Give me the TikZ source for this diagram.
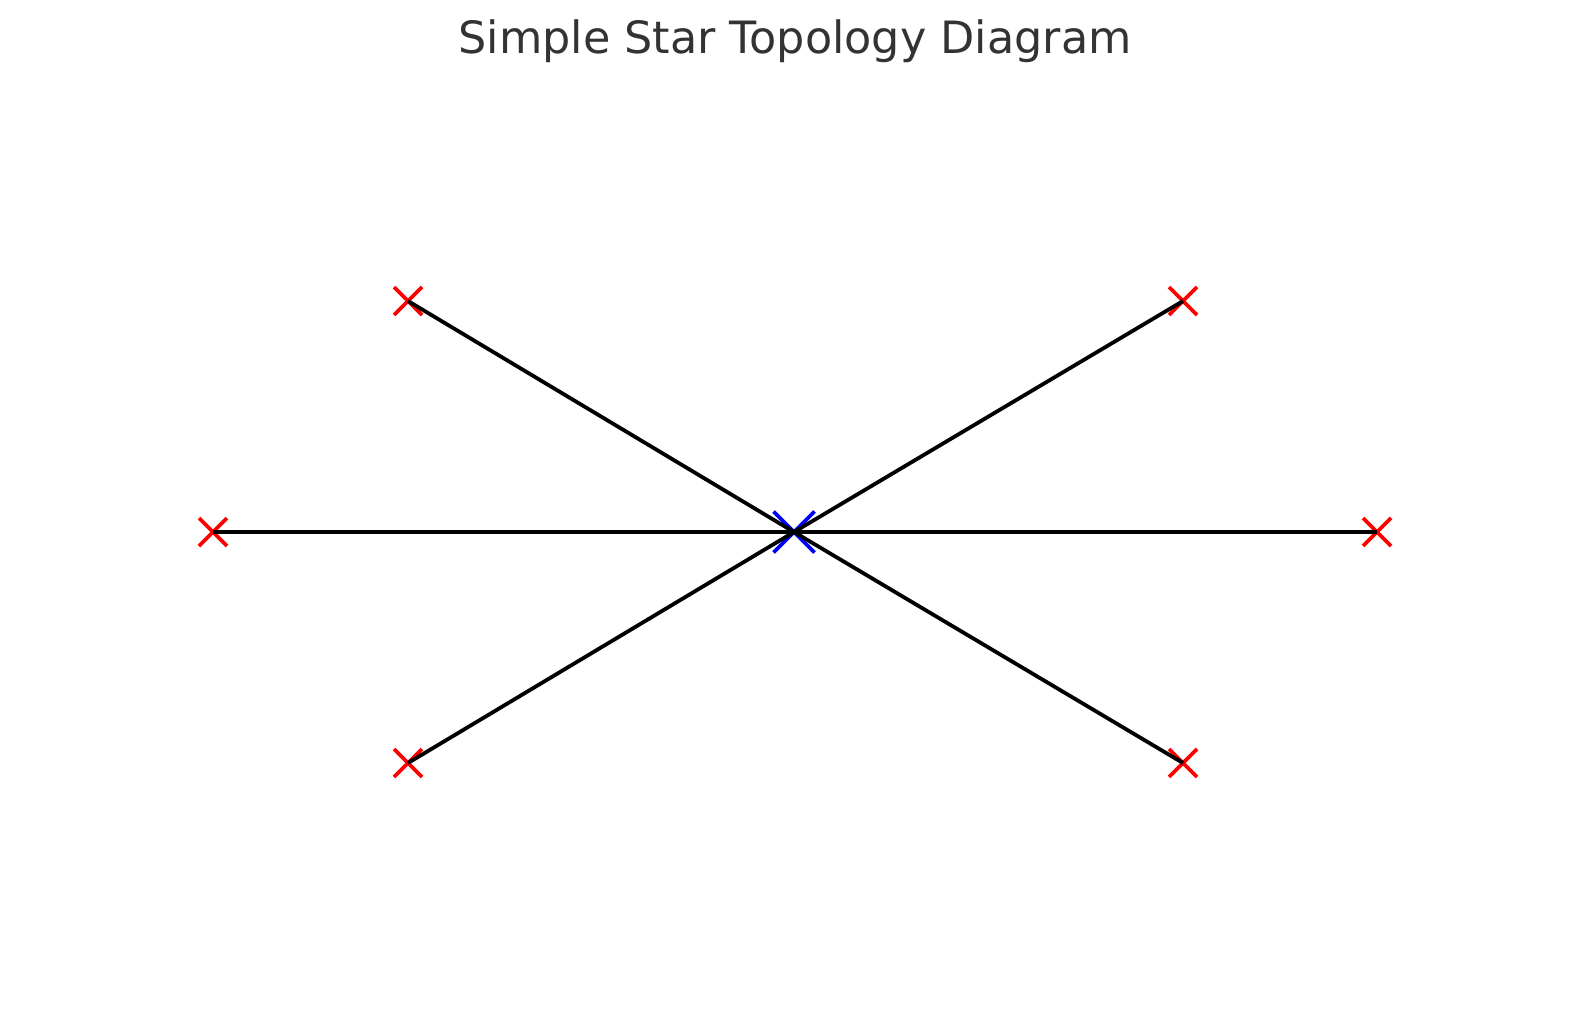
\documentclass[tikz,border=0pt]{standalone}
\usepackage{fontspec}
\setmainfont{DejaVu Sans}
\usetikzlibrary{shapes.misc}

\definecolor{titlegray}{HTML}{333333}
\tikzstyle{link}=[draw=black,line width=3.8pt]
\tikzstyle{leaf}=[cross out,draw=red,line width=3.8pt,minimum size=28pt,inner sep=0pt,outer sep=0pt]
\tikzstyle{hub}=[cross out,draw=blue,line width=3.8pt,minimum size=41pt,inner sep=0pt,outer sep=0pt]

\begin{document}
\begin{tikzpicture}[x=1pt,y=-1pt]
\useasboundingbox (0,0) rectangle (1589,1014);
% Title
   \node[anchor=base,text=titlegray,font=\fontsize{44.5}{52}\selectfont] (title) at (795,54) {Simple Star Topology Diagram};

% Markers
   \node[hub] (hub) at (794,532) {};
   \node[leaf] (tl) at (408,301) {};
   \node[leaf] (tr) at (1183,301) {};
   \node[leaf] (ml) at (213,532) {};
   \node[leaf] (mr) at (1377,532) {};
   \node[leaf] (bl) at (408,763) {};
   \node[leaf] (br) at (1183,763) {};

% Links
   \foreach \n in {tl,tr,ml,mr,bl,br}
      \draw[link] (hub.center) -- (\n.center);

\end{tikzpicture}
\end{document}
